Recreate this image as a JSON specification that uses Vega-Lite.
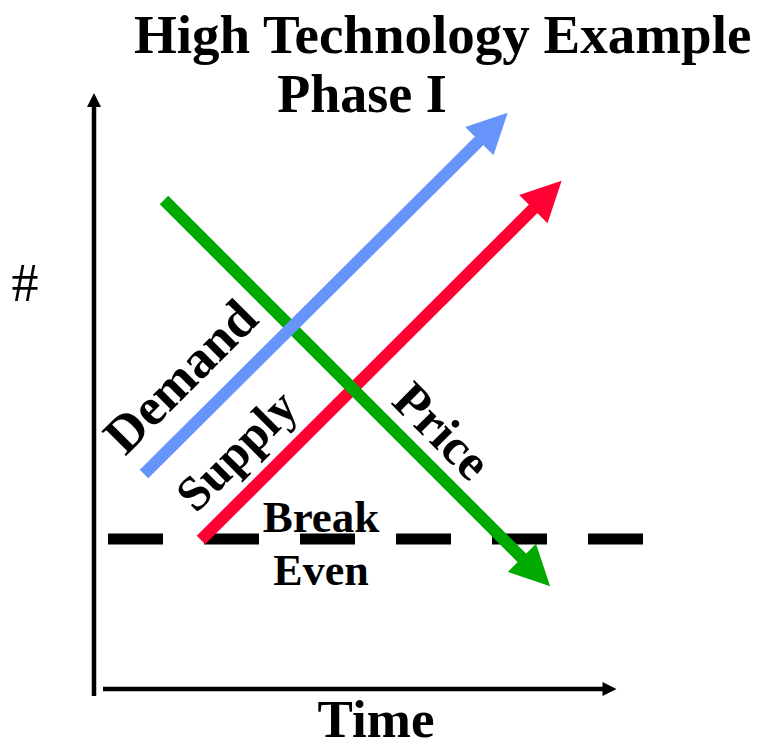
{
  "$schema": "https://vega.github.io/schema/vega-lite/v6.json",
  "width": 759,
  "height": 749,
  "autosize": {"type": "none"},
  "padding": 0,
  "background": "white",
  "config": {"view": {"stroke": null}},
  "encoding": {
    "x": {"field": "x", "type": "quantitative", "scale": {"domain": [0, 759], "nice": false, "zero": false}, "axis": null},
    "y": {"field": "y", "type": "quantitative", "scale": {"domain": [749, 0], "nice": false, "zero": false}, "axis": null}
  },
  "layer": [
    {
      "data": {"values": [
        {"name": "vertical axis", "x": 94, "y": 696, "x2": 94, "y2": 104},
        {"name": "horizontal axis", "x": 103, "y": 689, "x2": 606, "y2": 689}
      ]},
      "mark": {"type": "rule", "color": "black", "strokeWidth": 4.5, "strokeCap": "butt"},
      "encoding": {"x2": {"field": "x2"}, "y2": {"field": "y2"}}
    },
    {
      "data": {"values": [{"name": "vertical axis head", "x": 94, "y": 100}]},
      "mark": {"type": "point", "shape": "M0,-1L-1,1L1,1Z", "filled": true, "color": "black", "opacity": 1, "size": 196, "angle": 0, "strokeWidth": 0}
    },
    {
      "data": {"values": [{"name": "horizontal axis head", "x": 609.5, "y": 689}]},
      "mark": {"type": "point", "shape": "M0,-1L-1,1L1,1Z", "filled": true, "color": "black", "opacity": 1, "size": 196, "angle": 90, "strokeWidth": 0}
    },
    {
      "data": {"values": [{"name": "Break Even", "x": 108, "y": 539, "x2": 644, "y2": 539}]},
      "mark": {"type": "rule", "color": "black", "strokeWidth": 11, "strokeDash": [55, 41], "strokeCap": "butt"},
      "encoding": {"x2": {"field": "x2"}, "y2": {"field": "y2"}}
    },
    {
      "data": {"values": [
        {"series": "Supply", "x": 201, "y": 540, "x2": 537, "y2": 205},
        {"series": "Price", "x": 164, "y": 200, "x2": 526, "y2": 562},
        {"series": "Demand", "x": 144, "y": 474, "x2": 483, "y2": 137}
      ]},
      "mark": {"type": "rule", "strokeWidth": 12, "strokeCap": "butt"},
      "encoding": {
        "x2": {"field": "x2"},
        "y2": {"field": "y2"},
        "color": {"field": "series", "type": "nominal", "scale": {"domain": ["Demand", "Supply", "Price"], "range": ["#6694FA", "#FF0033", "#00AA00"]}, "legend": null}
      }
    },
    {
      "data": {"values": [
        {"series": "Supply", "x": 547.5, "y": 195},
        {"series": "Demand", "x": 493.5, "y": 127}
      ]},
      "mark": {"type": "point", "shape": "M0,-1L-1,1L1,1Z", "filled": true, "opacity": 1, "size": 1600, "angle": 45, "strokeWidth": 0},
      "encoding": {
        "color": {"field": "series", "type": "nominal", "scale": {"domain": ["Demand", "Supply", "Price"], "range": ["#6694FA", "#FF0033", "#00AA00"]}, "legend": null}
      }
    },
    {
      "data": {"values": [{"series": "Price", "x": 536, "y": 572}]},
      "mark": {"type": "point", "shape": "M0,-1L-1,1L1,1Z", "filled": true, "opacity": 1, "size": 1600, "angle": 135, "strokeWidth": 0},
      "encoding": {
        "color": {"field": "series", "type": "nominal", "scale": {"domain": ["Demand", "Supply", "Price"], "range": ["#6694FA", "#FF0033", "#00AA00"]}, "legend": null}
      }
    },
    {
      "data": {"values": [{"label": "High Technology Example", "x": 134, "y": 53}]},
      "mark": {"type": "text", "font": "Liberation Serif", "fontWeight": "bold", "fontSize": 55, "align": "left", "baseline": "alphabetic", "color": "black"},
      "encoding": {"text": {"field": "label"}}
    },
    {
      "data": {"values": [{"label": "Phase I", "x": 362, "y": 112}]},
      "mark": {"type": "text", "font": "Liberation Serif", "fontWeight": "bold", "fontSize": 54, "align": "center", "baseline": "alphabetic", "color": "black"},
      "encoding": {"text": {"field": "label"}}
    },
    {
      "data": {"values": [{"label": "Time", "x": 376, "y": 737}]},
      "mark": {"type": "text", "font": "Liberation Serif", "fontWeight": "bold", "fontSize": 53, "align": "center", "baseline": "alphabetic", "color": "black"},
      "encoding": {"text": {"field": "label"}}
    },
    {
      "data": {"values": [{"label": "#", "x": 25, "y": 301}]},
      "mark": {"type": "text", "font": "Liberation Serif", "fontWeight": "normal", "fontSize": 54, "align": "center", "baseline": "alphabetic", "color": "black"},
      "encoding": {"text": {"field": "label"}}
    },
    {
      "data": {"values": [{"label": "Break", "x": 321, "y": 532}]},
      "mark": {"type": "text", "font": "Liberation Serif", "fontWeight": "bold", "fontSize": 45, "align": "center", "baseline": "alphabetic", "color": "black"},
      "encoding": {"text": {"field": "label"}}
    },
    {
      "data": {"values": [{"label": "Even", "x": 321, "y": 585}]},
      "mark": {"type": "text", "font": "Liberation Serif", "fontWeight": "bold", "fontSize": 44, "align": "center", "baseline": "alphabetic", "color": "black"},
      "encoding": {"text": {"field": "label"}}
    },
    {
      "data": {"values": [{"label": "Demand", "x": 193, "y": 389}]},
      "mark": {"type": "text", "font": "Liberation Serif", "fontWeight": "bold", "fontSize": 53, "align": "center", "baseline": "alphabetic", "angle": -45, "color": "black"},
      "encoding": {"text": {"field": "label"}}
    },
    {
      "data": {"values": [{"label": "Supply", "x": 248, "y": 462}]},
      "mark": {"type": "text", "font": "Liberation Serif", "fontWeight": "bold", "fontSize": 49, "align": "center", "baseline": "alphabetic", "angle": -45, "color": "black"},
      "encoding": {"text": {"field": "label"}}
    },
    {
      "data": {"values": [{"label": "Price", "x": 430, "y": 443}]},
      "mark": {"type": "text", "font": "Liberation Serif", "fontWeight": "bold", "fontSize": 51, "align": "center", "baseline": "alphabetic", "angle": 45, "color": "black"},
      "encoding": {"text": {"field": "label"}}
    }
  ]
}
